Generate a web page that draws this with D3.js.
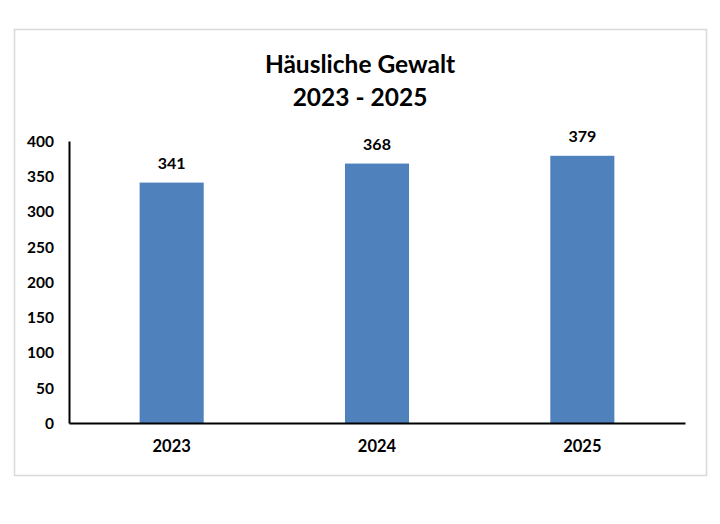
<!DOCTYPE html>
<html>
<head>
<meta charset="utf-8">
<script src="https://cdn.jsdelivr.net/npm/d3@7"></script>
<style>
	body { margin: 0; background: #fff; }
	text { font-family: Lato, "Open Sans", sans-serif; font-weight: bold; fill: #000; }
</style>
</head>
<body>
<div id="chart"></div>
<script>
const years = ["2023", "2024", "2025"];
const cases = [341, 368, 379];
const yTicks = [0, 50, 100, 150, 200, 250, 300, 350, 400];
const titleLines = ["Häusliche Gewalt", "2023 - 2025"];

const W = 720, H = 524;
const margin = {top: 141, right: 35, bottom: 101, left: 69};
const width = W - margin.left - margin.right,
		height = H - margin.top - margin.bottom;

const svg = d3.select("#chart")
	.append("svg")
		.attr("width", W)
		.attr("height", H);

// chart frame
svg.append("rect")
	.attr("x", 14.5)
	.attr("y", 29.5)
	.attr("width", 692)
	.attr("height", 446)
	.attr("fill", "#fff")
	.attr("stroke", "#d9d9d9")
	.attr("stroke-width", 1.5);

// title
svg.append("g")
	.selectAll("text")
	.data(titleLines)
	.join("text")
		.attr("x", 360)
		.attr("y", (d, i) => 73 + i * 33)
		.attr("text-anchor", "middle")
		.style("font-size", "24.5px")
		.text(d => d);

const g = svg.append("g")
	.attr("transform", `translate(${margin.left},${margin.top})`);

const x = d3.scaleBand()
	.domain(years)
	.range([0, width])
	.padding(0);

const y = d3.scaleLinear()
	.domain([0, 400])
	.range([height, 0]);

const barW = x.bandwidth() * 0.312;

// bars
g.append("g")
	.selectAll("rect")
	.data(years)
	.join("rect")
		.attr("x", d => x(d) + (x.bandwidth() - barW) / 2)
		.attr("y", (d, i) => y(cases[i]))
		.attr("width", barW)
		.attr("height", (d, i) => height - y(cases[i]))
		.attr("fill", "#4f81bd");

// value labels
g.append("g")
	.selectAll("text")
	.data(years)
	.join("text")
		.attr("x", d => x(d) + x.bandwidth() / 2)
		.attr("y", (d, i) => y(cases[i]) - 14)
		.attr("text-anchor", "middle")
		.style("font-size", "16px")
		.text((d, i) => cases[i]);

// Y axis
const yAxis = g.append("g")
	.call(d3.axisLeft(y).tickValues(yTicks).tickSize(0).tickPadding(15));
yAxis.select(".domain").attr("stroke", "#000").attr("stroke-width", 2);
yAxis.selectAll("text").style("font-size", "15.5px").attr("dy", "0.35em");

// X axis
const xAxis = g.append("g")
	.attr("transform", `translate(0,${height})`)
	.call(d3.axisBottom(x).tickSize(0).tickPadding(17));
xAxis.select(".domain").attr("stroke", "#000").attr("stroke-width", 2);
xAxis.selectAll("text").style("font-size", "16.5px");
</script>
</body>
</html>
